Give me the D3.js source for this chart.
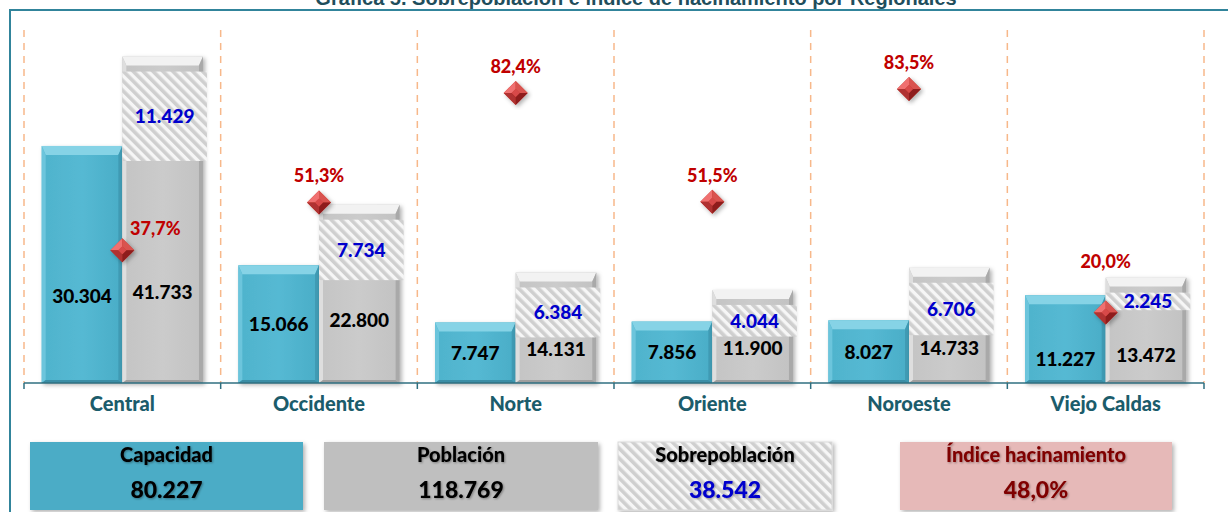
<!DOCTYPE html>
<html>
<head>
    <meta charset="utf-8">
    <title>Sobrepoblación e índice de hacinamiento por Regionales</title>
    <script src="https://cdn.jsdelivr.net/npm/d3@7"></script>
    <style>
        body { margin: 0; background: #ffffff; }
        svg { display: block; font-family: Lato, "Open Sans", sans-serif; }
    </style>
</head>
<body>
<script>
    // datos
    var regionales = ['Central', 'Occidente', 'Norte', 'Oriente', 'Noroeste', 'Viejo Caldas'];
    var capacidad = [30304, 15066, 7747, 7856, 8027, 11227];
    var poblacion = [41733, 22800, 14131, 11900, 14733, 13472];
    var sobrepoblacion = [11429, 7734, 6384, 4044, 6706, 2245];
    var indice = [0.377, 0.513, 0.824, 0.515, 0.835, 0.200];
    var indiceTotal = 0.480;

    var width = 1228, height = 512;
    var es = d3.formatLocale({decimal: ',', thousands: '.', grouping: [3], currency: ['$', '']});
    var fmtNum = es.format(',d');
    var fmtPct = es.format('.1%');

    var rows = regionales.map(function(r, i) {
        return {name: r, cap: capacidad[i], pob: poblacion[i], sob: sobrepoblacion[i], idx: indice[i]};
    });

    var svg = d3.select('body').append('svg')
                .attr('width', width)
                .attr('height', height);

    var defs = svg.append('defs');

    // rayado para la sobrepoblacion
    var pat = defs.append('pattern')
        .attr('id', 'rayas')
        .attr('patternUnits', 'userSpaceOnUse')
        .attr('width', 7).attr('height', 7)
        .attr('patternTransform', 'rotate(-45)');
    pat.append('rect').attr('width', 7).attr('height', 7).attr('fill', '#f6f6f6');
    pat.append('rect').attr('width', 3.6).attr('height', 7).attr('fill', '#cfcfcf');

    function gradient(id, c1, c2, c3) {
        var g = defs.append('linearGradient').attr('id', id)
            .attr('x1', 0).attr('x2', 1).attr('y1', 0).attr('y2', 0);
        g.append('stop').attr('offset', '0%').attr('stop-color', c1);
        g.append('stop').attr('offset', '50%').attr('stop-color', c2);
        g.append('stop').attr('offset', '100%').attr('stop-color', c3);
    }
    gradient('gradAzul', '#4fb3cc', '#55b9d3', '#4aadc7');
    gradient('gradGris', '#c4c4c4', '#cbcbcb', '#c2c2c2');

    var sombra = defs.append('filter').attr('id', 'sombra')
        .attr('x', '-20%').attr('y', '-20%').attr('width', '140%').attr('height', '140%');
    sombra.append('feDropShadow').attr('dx', 2).attr('dy', 2).attr('stdDeviation', 2)
        .attr('flood-color', '#000').attr('flood-opacity', 0.3);

    var sombraTexto = defs.append('filter').attr('id', 'sombraTexto');
    sombraTexto.append('feDropShadow').attr('dx', 1).attr('dy', 1).attr('stdDeviation', 0.8)
        .attr('flood-color', '#000').attr('flood-opacity', 0.35);

    // marco
    svg.append('rect')
        .attr('x', 10).attr('y', 10)
        .attr('width', width).attr('height', height)
        .attr('fill', 'none')
        .attr('stroke', '#31849b')
        .attr('stroke-width', 2);

    // titulo (cortado por arriba, igual que en el original)
    svg.append('text')
        .attr('x', 636).attr('y', 5)
        .attr('text-anchor', 'middle')
        .attr('font-family', '"Liberation Sans", Arial, sans-serif')
        .attr('font-weight', 'bold')
        .attr('font-size', 20)
        .attr('fill', '#1f4e5c')
        .text('Gráfica 5. Sobrepoblación e índice de hacinamiento por Regionales');

    var x = d3.scaleBand().domain(regionales).range([24, 1204]).padding(0);
    var y = d3.scaleLinear().domain([0, 45000]).range([383, 31]);
    var y2 = d3.scaleLinear().domain([0, 1]).range([383, 31]);
    var bw = x.bandwidth() * 0.41;

    // lineas punteadas entre regionales
    var bordes = regionales.map(function(r) { return x(r); }).concat([x.range()[1]]);
    svg.append('g').selectAll('line').data(bordes).enter()
        .append('line')
        .attr('x1', function(d) { return d; }).attr('x2', function(d) { return d; })
        .attr('y1', 30).attr('y2', 383)
        .attr('stroke', '#f7b88a')
        .attr('stroke-width', 1.5)
        .attr('stroke-dasharray', '7,6');

    // barra con bisel
    function barra(g, x0, y0, w, h, fill, top, left, right, bottom) {
        var b = Math.min(9, h / 2), s = 4;
        var bar = g.append('g').attr('filter', 'url(#sombra)');
        bar.append('rect').attr('x', x0).attr('y', y0).attr('width', w).attr('height', h).attr('fill', fill);
        bar.append('polygon').attr('fill', top)
            .attr('points', [[x0, y0], [x0 + w, y0], [x0 + w - s, y0 + b], [x0 + s, y0 + b]].join(' '));
        bar.append('polygon').attr('fill', left)
            .attr('points', [[x0, y0], [x0 + s, y0 + b], [x0 + s, y0 + h - 3], [x0, y0 + h]].join(' '));
        bar.append('polygon').attr('fill', right)
            .attr('points', [[x0 + w, y0], [x0 + w - s, y0 + b], [x0 + w - s, y0 + h - 3], [x0 + w, y0 + h]].join(' '));
        bar.append('polygon').attr('fill', bottom)
            .attr('points', [[x0, y0 + h], [x0 + s, y0 + h - 3], [x0 + w - s, y0 + h - 3], [x0 + w, y0 + h]].join(' '));
    }

    var barras = svg.append('g').attr('class', 'barras');
    rows.forEach(function(d) {
        var cx = x(d.name) + x.bandwidth() / 2;
        barra(barras, cx - bw, y(d.cap), bw, y(0) - y(d.cap), 'url(#gradAzul)', '#86d3e6', '#6cc5dc', '#3f9bb4', '#3a8ea6');
        barra(barras, cx, y(d.pob), bw, y(0) - y(d.pob), 'url(#gradGris)', '#f2f2f2', '#dedede', '#a9a9a9', '#9e9e9e');
    });

    // eje
    var eje = svg.append('g').attr('transform', 'translate(0,383)');
    eje.append('line').attr('x1', x.range()[0]).attr('x2', x.range()[1])
        .attr('y1', 0).attr('y2', 0)
        .attr('stroke', '#2f6f80').attr('stroke-width', 1.5);
    eje.selectAll('.tick-borde').data(bordes).enter()
        .append('line')
        .attr('x1', function(d) { return d; }).attr('x2', function(d) { return d; })
        .attr('y1', 0).attr('y2', 6)
        .attr('stroke', '#2f6f80').attr('stroke-width', 1.5);
    var ejeX = eje.append('g').call(d3.axisBottom(x).tickSize(0).tickPadding(14));
    ejeX.select('.domain').remove();
    ejeX.selectAll('text')
        .attr('font-family', 'Lato, sans-serif')
        .attr('font-size', 20)
        .attr('font-weight', 900)
        .attr('fill', '#1b5c6b');

    // caja rayada de sobrepoblacion
    var cajas = svg.append('g').attr('class', 'sobre');
    rows.forEach(function(d) {
        var cx = x(d.name) + x.bandwidth() / 2;
        var top = y(d.pob) + 15;
        var h = y(0) - y(d.sob);
        cajas.append('rect')
            .attr('x', cx).attr('y', top)
            .attr('width', bw + 4).attr('height', h)
            .attr('fill', 'url(#rayas)');
        d.sobTop = top;
        d.sobMid = top + h / 2;
    });

    // etiquetas de valores
    var etiquetas = svg.append('g')
        .attr('font-family', 'Lato, sans-serif')
        .attr('font-weight', 900)
        .attr('font-size', 19)
        .attr('text-anchor', 'middle');
    rows.forEach(function(d) {
        var cx = x(d.name) + x.bandwidth() / 2;
        var yd = y2(d.idx);
        var ly = (y(d.cap) + y(0)) / 2;
        // si choca con el rombo, la bajo
        if (Math.abs(ly - yd) < 40) ly = yd + 46;
        etiquetas.append('text').attr('x', cx - bw / 2).attr('y', ly + 7)
            .attr('fill', '#000').text(fmtNum(d.cap));
        etiquetas.append('text').attr('x', cx + bw / 2).attr('y', ly + 3)
            .attr('fill', '#000').text(fmtNum(d.pob));
        etiquetas.append('text').attr('x', cx + bw / 2 + 2).attr('y', d.sobMid + 7)
            .attr('fill', '#0000cc').text(fmtNum(d.sob));
    });

    // rombos del indice
    var rombos = svg.append('g').attr('class', 'rombos');
    rows.forEach(function(d) {
        var cx = x(d.name) + x.bandwidth() / 2;
        var cy = y2(d.idx);
        var r = 12, k = 4;
        var g = rombos.append('g').attr('transform', 'translate(' + cx + ',' + cy + ')')
            .attr('filter', 'url(#sombra)');
        g.append('polygon').attr('points', [[0, -r], [r, 0], [0, r], [-r, 0]].join(' ')).attr('fill', '#c0392b');
        g.append('polygon').attr('points', [[0, -r], [-r, 0], [-k, 0], [0, -k]].join(' ')).attr('fill', '#f07070');
        g.append('polygon').attr('points', [[0, -r], [r, 0], [k, 0], [0, -k]].join(' ')).attr('fill', '#d9534f');
        g.append('polygon').attr('points', [[-r, 0], [0, r], [0, k], [-k, 0]].join(' ')).attr('fill', '#b03030');
        g.append('polygon').attr('points', [[r, 0], [0, r], [0, k], [k, 0]].join(' ')).attr('fill', '#8e1f1f');
        g.append('polygon').attr('points', [[0, -k], [k, 0], [0, k], [-k, 0]].join(' ')).attr('fill', '#d84a4a');

        // posicion de la etiqueta
        var lx = cx, ly = cy - 20;
        if (ly + 2 > d.sobTop && ly - 16 < d.sobTop + (y(0) - y(d.sob))) {
            ly = d.sobTop - 25;
        } else if (ly > y(d.pob)) {
            lx = cx + 33;
            ly = cy - 15;
        }
        rombos.append('text')
            .attr('x', lx).attr('y', ly)
            .attr('text-anchor', 'middle')
            .attr('font-family', 'Lato, sans-serif')
            .attr('font-weight', 900)
            .attr('font-size', 18)
            .attr('fill', '#c00000')
            .text(fmtPct(d.idx));
    });

    // resumen abajo
    var totales = [
        {label: 'Capacidad', value: fmtNum(d3.sum(capacidad)), fill: '#4bacc6', tc: '#000', vc: '#000', x0: 30, x1: 303},
        {label: 'Población', value: fmtNum(d3.sum(poblacion)), fill: '#bfbfbf', tc: '#000', vc: '#000', x0: 324, x1: 598},
        {label: 'Sobrepoblación', value: fmtNum(d3.sum(sobrepoblacion)), fill: 'url(#rayas)', tc: '#000', vc: '#0000cc', x0: 618, x1: 832},
        {label: 'Índice hacinamiento', value: fmtPct(indiceTotal), fill: '#e6b9b8', tc: '#7f0000', vc: '#7f0000', x0: 900, x1: 1172}
    ];
    var leyenda = svg.append('g').selectAll('g').data(totales).enter().append('g');
    leyenda.append('rect')
        .attr('x', function(d) { return d.x0; })
        .attr('y', 442)
        .attr('width', function(d) { return d.x1 - d.x0; })
        .attr('height', 68)
        .attr('fill', function(d) { return d.fill; })
        .attr('stroke', function(d, i) { return i == 2 ? '#d9d9d9' : 'none'; })
        .attr('filter', 'url(#sombra)');
    leyenda.append('text')
        .attr('x', function(d) { return (d.x0 + d.x1) / 2; })
        .attr('y', 462)
        .attr('text-anchor', 'middle')
        .attr('font-family', 'Lato, sans-serif')
        .attr('font-weight', 900)
        .attr('font-size', 20)
        .attr('fill', function(d) { return d.tc; })
        .attr('filter', 'url(#sombraTexto)')
        .text(function(d) { return d.label; });
    leyenda.append('text')
        .attr('x', function(d) { return (d.x0 + d.x1) / 2; })
        .attr('y', 498)
        .attr('text-anchor', 'middle')
        .attr('font-family', 'Lato, sans-serif')
        .attr('font-weight', 900)
        .attr('font-size', 23)
        .attr('fill', function(d) { return d.vc; })
        .attr('filter', 'url(#sombraTexto)')
        .text(function(d) { return d.value; });
</script>
</body>
</html>
